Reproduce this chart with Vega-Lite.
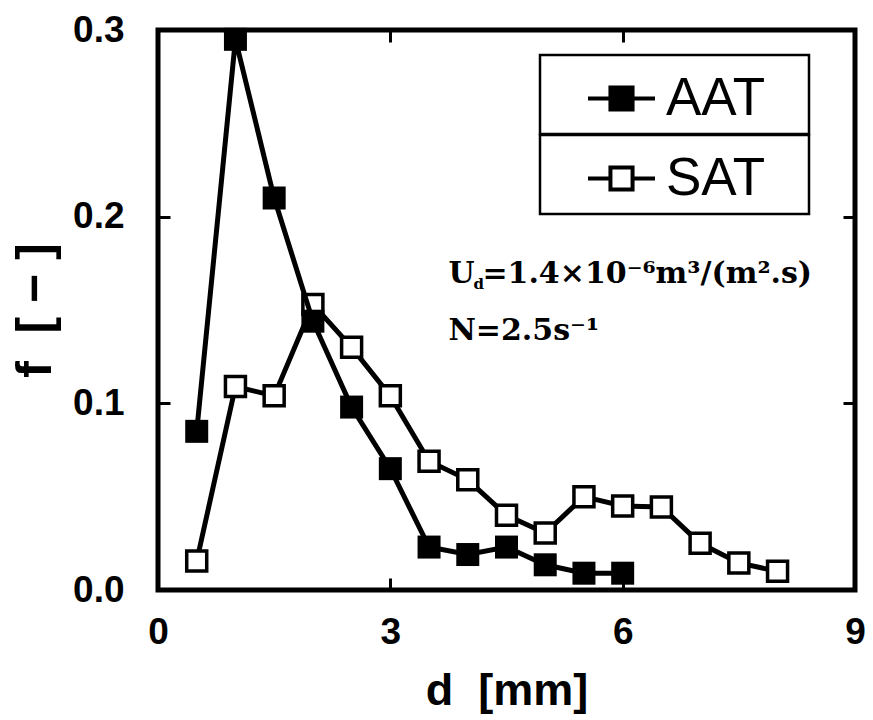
{
  "$schema": "https://vega.github.io/schema/vega-lite/v6.json",
  "width": 697,
  "height": 560,
  "autosize": {"type": "none"},
  "padding": {"left": 158, "top": 30, "right": 18, "bottom": 130},
  "background": "white",
  "config": {
    "view": {"stroke": "black", "strokeWidth": 5},
    "axis": {
      "grid": false,
      "domain": false,
      "tickColor": "black",
      "tickWidth": 3,
      "tickSize": -12,
      "labelFlush": false,
      "labelColor": "black",
      "labelFont": "Liberation Sans",
      "labelFontWeight": "bold",
      "labelFontSize": 37,
      "titleFont": "Liberation Sans",
      "titleFontWeight": "bold",
      "titleFontSize": 45,
      "titleColor": "black"
    },
    "legend": {
      "strokeColor": "black",
      "strokeWidth": 2.5,
      "padding": 8,
      "labelFont": "Liberation Sans",
      "labelFontSize": 53,
      "labelColor": "black",
      "labelOffset": 9,
      "symbolType": "M-1,0H-0.33M0.33,0H1M-0.33,-0.33H0.33V0.33H-0.33Z",
      "symbolSize": 4489,
      "symbolStrokeWidth": 4,
      "symbolStrokeColor": "black",
      "symbolOffset": 38,
      "fillColor": "white",
      "titleOrient": "right",
      "titleFont": "Liberation Sans",
      "titleFontSize": 19,
      "titleFontWeight": "normal",
      "titleColor": "white",
      "titlePadding": 0
    }
  },
  "data": {
    "values": [
      {"series": "AAT", "d": 0.5, "f": 0.085},
      {"series": "AAT", "d": 1.0, "f": 0.295},
      {"series": "AAT", "d": 1.5, "f": 0.21},
      {"series": "AAT", "d": 2.0, "f": 0.144},
      {"series": "AAT", "d": 2.5, "f": 0.098},
      {"series": "AAT", "d": 3.0, "f": 0.065},
      {"series": "AAT", "d": 3.5, "f": 0.023},
      {"series": "AAT", "d": 4.0, "f": 0.019},
      {"series": "AAT", "d": 4.5, "f": 0.023},
      {"series": "AAT", "d": 5.0, "f": 0.0135},
      {"series": "AAT", "d": 5.5, "f": 0.009},
      {"series": "AAT", "d": 6.0, "f": 0.009},
      {"series": "SAT", "d": 0.5, "f": 0.0155},
      {"series": "SAT", "d": 1.0, "f": 0.109},
      {"series": "SAT", "d": 1.5, "f": 0.104},
      {"series": "SAT", "d": 2.0, "f": 0.153},
      {"series": "SAT", "d": 2.5, "f": 0.13},
      {"series": "SAT", "d": 3.0, "f": 0.104},
      {"series": "SAT", "d": 3.5, "f": 0.069},
      {"series": "SAT", "d": 4.0, "f": 0.059},
      {"series": "SAT", "d": 4.5, "f": 0.04},
      {"series": "SAT", "d": 5.0, "f": 0.0305},
      {"series": "SAT", "d": 5.5, "f": 0.05},
      {"series": "SAT", "d": 6.0, "f": 0.045},
      {"series": "SAT", "d": 6.5, "f": 0.0445},
      {"series": "SAT", "d": 7.0, "f": 0.025},
      {"series": "SAT", "d": 7.5, "f": 0.0145},
      {"series": "SAT", "d": 8.0, "f": 0.01}
    ]
  },
  "layer": [
    {
      "transform": [{"filter": "datum.series === 'SAT'"}],
      "encoding": {
        "x": {"field": "d", "type": "quantitative", "scale": {"domain": [0, 9], "nice": false},
              "axis": {"orient": "top", "values": [0, 3, 6, 9], "labels": false, "title": null}},
        "y": {"field": "f", "type": "quantitative", "scale": {"domain": [0, 0.3], "nice": false},
              "axis": {"orient": "right", "values": [0, 0.1, 0.2, 0.3], "labels": false, "title": null}},
        "color": {"field": "series", "type": "nominal", "scale": {"domain": ["SAT"], "range": ["black"]},
                  "legend": {"orient": "none", "legendX": 382, "legendY": 105, "title": "SAT", "symbolFillColor": "white"}}
      },
      "layer": [
        {"mark": {"type": "line", "strokeWidth": 5}},
        {"mark": {"type": "point", "shape": "square", "filled": false, "fill": "white", "strokeWidth": 3.5, "size": 400, "opacity": 1}}
      ]
    },
    {
      "transform": [{"filter": "datum.series === 'AAT'"}],
      "encoding": {
        "x": {"field": "d", "type": "quantitative", "scale": {"domain": [0, 9], "nice": false},
              "axis": {"orient": "bottom", "values": [0, 3, 6, 9], "labelPadding": 36, "title": "d\u00a0\u00a0[mm]", "titlePadding": 18}},
        "y": {"field": "f", "type": "quantitative", "scale": {"domain": [0, 0.3], "nice": false},
              "axis": {"orient": "left", "values": [0, 0.1, 0.2, 0.3], "format": ".1f", "labelPadding": 46, "title": "f\u00a0\u00a0[\u00a0\u2212\u00a0]", "titleFontSize": 50, "titlePadding": 12}},
        "color": {"field": "series", "type": "nominal", "scale": {"domain": ["AAT"], "range": ["black"]},
                  "legend": {"orient": "none", "legendX": 382, "legendY": 25, "title": "AAT", "symbolFillColor": "black"}}
      },
      "layer": [
        {"mark": {"type": "line", "strokeWidth": 5}},
        {"mark": {"type": "point", "shape": "square", "filled": true, "size": 529, "opacity": 1}}
      ]
    },
    {
      "data": {"values": [{}]},
      "mark": {"type": "text", "text": "U", "align": "left", "baseline": "alphabetic", "font": "DejaVu Serif", "fontWeight": "bold", "fontSize": 30, "color": "black"},
      "encoding": {
        "x": {"datum": 3.75, "type": "quantitative", "axis": null},
        "y": {"datum": 0.1645, "type": "quantitative", "axis": null}
      }
    },
    {
      "data": {"values": [{}]},
      "mark": {"type": "text", "text": "d", "align": "left", "baseline": "alphabetic", "dx": 25, "dy": 6, "font": "DejaVu Serif", "fontWeight": "bold", "fontSize": 15, "color": "black"},
      "encoding": {
        "x": {"datum": 3.75, "type": "quantitative", "axis": null},
        "y": {"datum": 0.1645, "type": "quantitative", "axis": null}
      }
    },
    {
      "data": {"values": [{}]},
      "mark": {"type": "text", "text": "=1.4\u00d710\u207b\u2076m\u00b3/(m\u00b2.s)", "align": "left", "baseline": "alphabetic", "dx": 34, "font": "DejaVu Serif", "fontWeight": "bold", "fontSize": 30, "color": "black"},
      "encoding": {
        "x": {"datum": 3.75, "type": "quantitative", "axis": null},
        "y": {"datum": 0.1645, "type": "quantitative", "axis": null}
      }
    },
    {
      "data": {"values": [{}]},
      "mark": {"type": "text", "text": "N=2.5s\u207b\u00b9", "align": "left", "baseline": "alphabetic", "font": "DejaVu Serif", "fontWeight": "bold", "fontSize": 30, "color": "black"},
      "encoding": {
        "x": {"datum": 3.75, "type": "quantitative", "axis": null},
        "y": {"datum": 0.134, "type": "quantitative", "axis": null}
      }
    }
  ],
  "resolve": {
    "scale": {"color": "independent"},
    "axis": {"x": "independent", "y": "independent"}
  }
}
